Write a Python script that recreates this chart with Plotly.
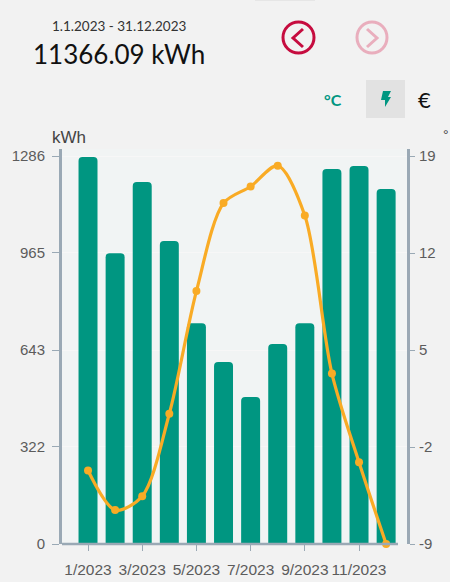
import plotly.graph_objects as go

W, H = 450, 582

months = ["1/2023", "2/2023", "3/2023", "4/2023", "5/2023", "6/2023",
          "7/2023", "8/2023", "9/2023", "10/2023", "11/2023", "12/2023"]
energy_kwh = [1283, 964, 1200, 1004, 732, 603, 487, 663, 732, 1243, 1253, 1177]
temperature_c = [-3.7, -6.55, -5.55, 0.4, 9.25, 15.6, 16.8, 18.3, 14.7, 3.3, -3.1, -9]
left_ticks = [0, 322, 643, 965, 1286]
right_ticks = [-9, -2, 5, 12, 19]
x_tick_labels = ["1/2023", "3/2023", "5/2023", "7/2023", "9/2023", "11/2023"]

TEAL = "#009681"
ORANGE = "#f9ab25"
AXIS = "#9aa9b5"
TICK_TXT = "#5c5c5c"
BG = "#f2f2f2"
HEAD_FONT = "Lato"
TICK_FONT = "Liberation Sans"

L, R, T, B = 62, 407, 149, 544


def px(x):
    return (x - L) / (R - L)


def py(y):
    return (B - y) / (B - T)


def path(points, close=False):
    s = "M" + " L".join(f"{px(a):.5f},{py(b):.5f}" for a, b in points)
    return s + (" Z" if close else "")


fig = go.Figure()
fig.add_bar(x=months, y=energy_kwh, marker=dict(color=TEAL, cornerradius=4, line_width=0),
            width=0.7, yaxis="y", showlegend=False)
fig.add_scatter(x=months, y=temperature_c, mode="lines+markers", yaxis="y2", showlegend=False,
                line=dict(color=ORANGE, width=3.2, shape="spline", smoothing=0.85),
                marker=dict(color=ORANGE, size=8), cliponaxis=False)

shapes = [
    dict(type="rect", xref="paper", yref="paper", x0=px(255), x1=px(315), y0=py(1), y1=py(0),
         fillcolor="#e6e6e6", line_width=0, layer="below"),
    dict(type="circle", xref="paper", yref="paper", x0=px(283), x1=px(314), y0=py(53), y1=py(22),
         line=dict(color="#c60c3f", width=3)),
    dict(type="path", xref="paper", yref="paper", path=path([(303, 29), (293, 38), (303, 47)]),
         line=dict(color="#c60c3f", width=3)),
    dict(type="circle", xref="paper", yref="paper", x0=px(357), x1=px(387), y0=py(53), y1=py(22),
         line=dict(color="#e9aebd", width=3)),
    dict(type="path", xref="paper", yref="paper", path=path([(367, 29), (377, 38), (367, 47)]),
         line=dict(color="#e9aebd", width=3)),
    dict(type="rect", xref="paper", yref="paper", x0=px(366), x1=px(405), y0=py(118), y1=py(80),
         fillcolor="#e2e2e2", line_width=0, layer="below"),
    dict(type="path", xref="paper", yref="paper",
         path=path([(383, 91), (391, 91), (388, 97), (391, 97), (385, 107), (385, 100), (381, 100)], True),
         fillcolor=TEAL, line_width=0),
    dict(type="line", xref="paper", yref="paper", x0=px(62), x1=px(398), y0=py(544), y1=py(544),
         line=dict(color=AXIS, width=2.5)),
]

annotations = [
    dict(text="1.1.2023 - 31.12.2023", x=px(118.5), y=py(26), font=dict(size=13.5, color="#333333", family=HEAD_FONT)),
    dict(text="11366.09 kWh", x=px(119), y=py(54), font=dict(size=26, color="#111111", family=HEAD_FONT)),
    dict(text="<b>°C</b>", x=px(333), y=py(99), font=dict(size=16, color=TEAL, family=HEAD_FONT)),
    dict(text="€", x=px(424), y=py(99), font=dict(size=22, color="#111111", family=HEAD_FONT)),
    dict(text="kWh", x=px(68.5), y=py(137), font=dict(size=17, color="#444444", family=TICK_FONT)),
    dict(text="°", x=px(446), y=py(135), font=dict(size=14, color="#444444", family=TICK_FONT)),
]
for a in annotations:
    a.update(xref="paper", yref="paper", showarrow=False)
    a.setdefault("xanchor", "center")
    a.setdefault("yanchor", "middle")

fig.update_layout(
    width=W, height=H, autosize=False,
    margin=dict(l=L, r=W - R, t=T, b=H - B, pad=0),
    paper_bgcolor=BG, plot_bgcolor="#f1f4f4",
    shapes=shapes, annotations=annotations,
    bargap=0.3,
    xaxis=dict(
        range=[-0.96, 11.77], type="category",
        categoryorder="array", categoryarray=months,
        tickmode="array", tickvals=x_tick_labels, ticktext=x_tick_labels,
        ticks="outside", ticklen=6, tickwidth=1, tickcolor=AXIS,
        showgrid=False, zeroline=False, showline=False, ticklabelstandoff=5,
        tickfont=dict(size=15.5, color=TICK_TXT, family=TICK_FONT), automargin=False,
    ),
    yaxis=dict(
        range=[0, 1286 * 395 / 388],
        tickmode="array", tickvals=left_ticks,
        ticks="outside", ticklen=7, tickwidth=1, tickcolor=AXIS,
        showline=True, linecolor=AXIS, linewidth=3, ticklabelstandoff=4,
        gridcolor="#f7f7f7", gridwidth=1, zeroline=False,
        tickfont=dict(size=15, color=TICK_TXT, family=TICK_FONT), automargin=False,
    ),
    yaxis2=dict(
        overlaying="y", side="right", anchor="x",
        range=[-9, -9 + 28 * 395 / 388],
        tickmode="array", tickvals=right_ticks, ticktext=[str(v) for v in right_ticks],
        ticks="outside", ticklen=5, tickwidth=1, tickcolor=AXIS,
        showline=True, linecolor=AXIS, linewidth=3, ticklabelstandoff=1,
        showgrid=False, zeroline=False,
        tickfont=dict(size=15, color=TICK_TXT, family=TICK_FONT), automargin=False,
    ),
)

fig.write_html("out.html", config={"displayModeBar": False},
               post_script="document.body.style.margin='0';")
